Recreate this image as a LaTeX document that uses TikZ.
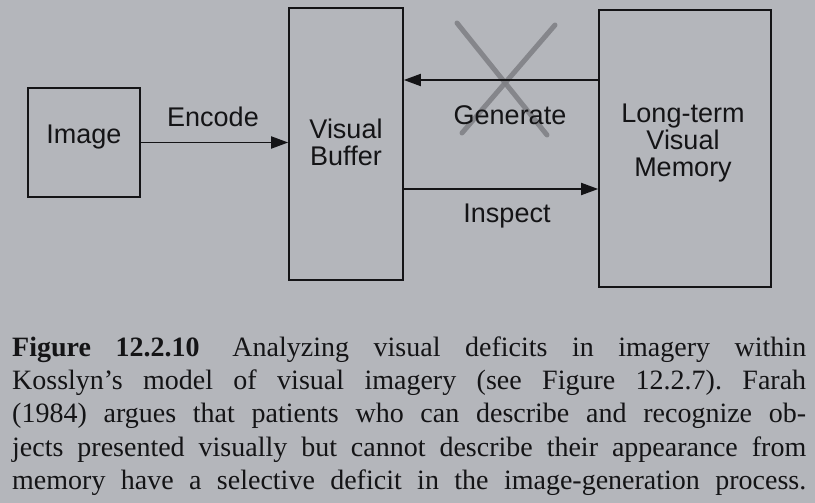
\documentclass[tikz,border=0pt]{standalone}
\usepackage{fontspec}
\setmainfont{Liberation Serif}
\newfontfamily\diagfont{Liberation Sans}
\usetikzlibrary{arrows.meta}
\frenchspacing
\definecolor{bgc}{RGB}{180,182,187}
\definecolor{inkc}{RGB}{20,20,22}
\definecolor{crossc}{RGB}{128,129,134}
\tikzset{
  box/.style={draw=inkc, line width=1.6pt, inner sep=0pt},
  lbl/.style={font=\diagfont\fontsize{27}{27}\selectfont, text=inkc, inner sep=0pt, align=center},
  arr/.style={draw=inkc, line width=1.8pt, -{Triangle[length=17pt,width=12pt]}},
  xline/.style={draw=crossc, line width=5pt, opacity=0.9, line cap=round},
  captxt/.style={font=\fontsize{28}{33}\selectfont, text=inkc, inner sep=0pt, anchor=base west}
}
\begin{document}
\begin{tikzpicture}[x=1pt,y=-1pt]
\fill[bgc] (0,0) rectangle (815,503);
\useasboundingbox (0,0) rectangle (815,503);
% boxes
\node[box, minimum width=112pt, minimum height=109pt] (img) at (84,142.5) {};
\node[lbl] (imgt) at (84,137) {Image};
\node[box, minimum width=114pt, minimum height=272pt] (vb) at (346,144) {};
\node[lbl] (vbt) at (346,142) {Visual\\Buffer};
\node[box, minimum width=172pt, minimum height=277pt] (ltm) at (685,148.5) {};
\node[lbl] (ltmt) at (683,143) {Long-term\\Visual\\Memory};
% helper coordinates for arrow heights
\coordinate (gy) at (0,80);
\coordinate (iy) at (0,189);
% cross
\coordinate (c1) at (457,23);
\coordinate (c2) at (547,135);
\coordinate (c3) at (555,25);
\coordinate (c4) at (462,133);
\draw[xline] (c1) -- (c2);
\draw[xline] (c3) -- (c4);
% arrows
\draw[arr] (img.east) -- (img.east -| vb.west);
\draw[arr] (ltm.west |- gy) -- (vb.east |- gy);
\draw[arr] (vb.east |- iy) -- (ltm.west |- iy);
% arrow labels
\node[lbl] (enc) at (213,117) {Encode};
\node[lbl] (gen) at (510,115) {Generate};
\node[lbl] (ins) at (507,216) {Inspect};
% caption
\node[captxt] (l1) at (12,356) {\makebox[794pt][s]{\textbf{Figure 12.2.10}\hspace{0.3em} Analyzing visual deficits in imagery within}};
\node[captxt] (l2) at (12,389) {\makebox[794pt][s]{Kosslyn’s model of visual imagery (see Figure 12.2.7). Farah}};
\node[captxt] (l3) at (12,422) {\makebox[794pt][s]{(1984) argues that patients who can describe and recognize ob-}};
\node[captxt] (l4) at (12,456) {\makebox[794pt][s]{jects presented visually but cannot describe their appearance from}};
\node[captxt] (l5) at (12,489) {\makebox[794pt][s]{memory have a selective deficit in the image-generation process.}};
\end{tikzpicture}
\end{document}
